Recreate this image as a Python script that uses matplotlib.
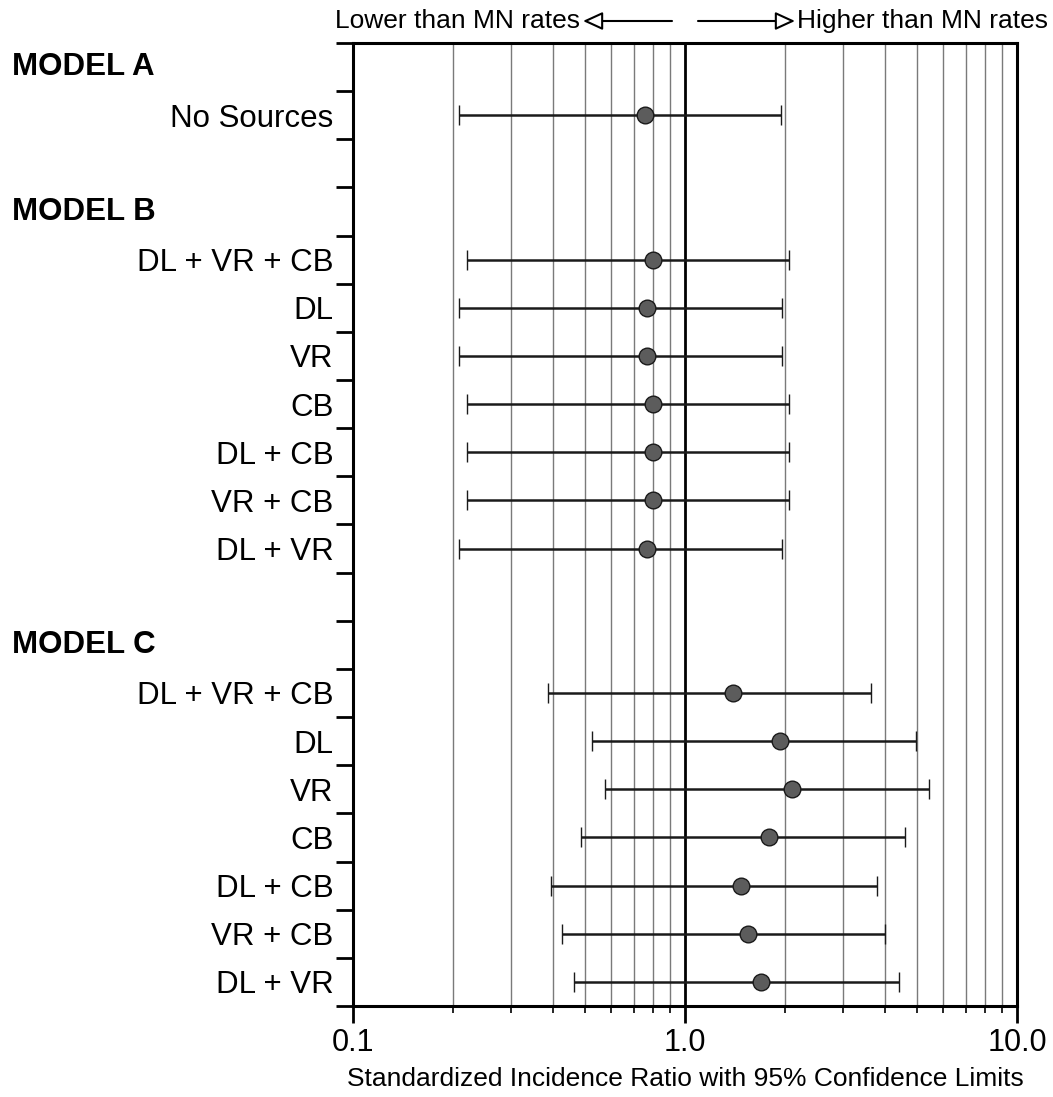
import numpy as np
import matplotlib.pyplot as plt
from matplotlib import transforms

plt.rcParams['font.family'] = ['Liberation Sans', 'DejaVu Sans']

# groups of the forest plot (header, row labels)
headers = ['MODEL A', 'MODEL B', 'MODEL C']
model_a = ['No Sources']
model_b = ['DL + VR + CB', 'DL', 'VR', 'CB', 'DL + CB', 'VR + CB', 'DL + VR']
model_c = ['DL + VR + CB', 'DL', 'VR', 'CB', 'DL + CB', 'VR + CB', 'DL + VR']

# standardized incidence ratio and 95% limits, in row order
sir = [0.76,
       0.80, 0.77, 0.77, 0.80, 0.80, 0.80, 0.77,
       1.40, 1.93, 2.10, 1.79, 1.47, 1.55, 1.70]
lower = [0.208,
         0.220, 0.209, 0.209, 0.220, 0.220, 0.220, 0.209,
         0.387, 0.526, 0.575, 0.486, 0.394, 0.425, 0.463]
upper = [1.95,
         2.06, 1.96, 1.96, 2.06, 2.06, 2.06, 1.96,
         3.63, 4.98, 5.43, 4.61, 3.78, 4.00, 4.40]

xticks = [0.1, 1.0, 10.0]
xticklabels = ['0.1', '1.0', '10.0']

# layout rows: header, items, one blank row after each group
labels, rows, header_rows = [], [], []
pos = 0.5
for grp in [model_a, model_b, model_c]:
    header_rows.append(pos)
    pos += 1
    for name in grp:
        labels.append(name)
        rows.append(pos)
        pos += 1
    pos += 1
n_slots = int(rows[-1] + 0.5)

fig = plt.figure(figsize=(10.53, 10.97), dpi=100)
ax = fig.add_axes([0.3352, 0.0830, 0.6306, 0.8778])

# grid lines at the minor decades, heavy line at 1.0
minors = list(np.arange(2, 10) * 0.1) + list(np.arange(2, 10) * 1.0)
for v in minors:
    ax.axvline(v, color='#7a7a7a', lw=1.0, zorder=1)
ax.axvline(1.0, color='black', lw=2.0, zorder=1)

sir = np.array(sir)
err = np.array([sir - np.array(lower), np.array(upper) - sir])
ax.errorbar(sir, rows, xerr=err, fmt='o', color='#1a1a1a', ecolor='#1a1a1a',
            elinewidth=1.8, capsize=7.5, capthick=1.8,
            markersize=12, markerfacecolor='#5c5c5c', markeredgecolor='#1a1a1a',
            markeredgewidth=1.0, zorder=3)

ax.set_xscale('log')
ax.set_xlim(0.1, 10)
ax.set_ylim(n_slots, 0)

ax.set_xticks(xticks)
ax.set_xticklabels(xticklabels, fontsize=22)
ax.xaxis.set_minor_locator(plt.FixedLocator(minors))
ax.xaxis.set_minor_formatter(plt.NullFormatter())
ax.tick_params(axis='x', which='major', direction='out', length=12, width=2, pad=4)
ax.tick_params(axis='x', which='minor', direction='out', length=5, width=1.2)

ax.set_yticks(np.arange(0, n_slots + 1))
ax.set_yticklabels([])
ax.set_yticks(rows, minor=True)
ax.set_yticklabels(labels, minor=True, fontsize=22.5)
ax.tick_params(axis='y', which='major', direction='out', length=12, width=2)
ax.tick_params(axis='y', which='minor', length=0, pad=14)

for s in ax.spines.values():
    s.set_linewidth(2.2)

ax.set_xlabel('Standardized Incidence Ratio with 95% Confidence Limits', fontsize=19, labelpad=6)

trans = transforms.blended_transform_factory(fig.transFigure, ax.transData)
for h, r in zip(headers, header_rows):
    ax.text(0.011, r, h, transform=trans, ha='left', va='center',
            fontsize=22.5, fontweight='bold')

# direction arrows above the plot
ty = 1 - 21 / 1097
fig.text(580 / 1053, ty, 'Lower than MN rates', ha='right', va='center', fontsize=19)
fig.text(797 / 1053, ty, 'Higher than MN rates', ha='left', va='center', fontsize=19)
arrow = dict(arrowstyle='-|>,head_length=1.2,head_width=0.55', fc='white', ec='black',
             lw=1.5, shrinkA=0, shrinkB=0)
ax.annotate('', xy=(583 / 1053, ty), xytext=(672 / 1053, ty),
            xycoords='figure fraction', textcoords='figure fraction', arrowprops=arrow)
ax.annotate('', xy=(795 / 1053, ty), xytext=(698 / 1053, ty),
            xycoords='figure fraction', textcoords='figure fraction', arrowprops=arrow)

fig.savefig('out.png', dpi=100)
